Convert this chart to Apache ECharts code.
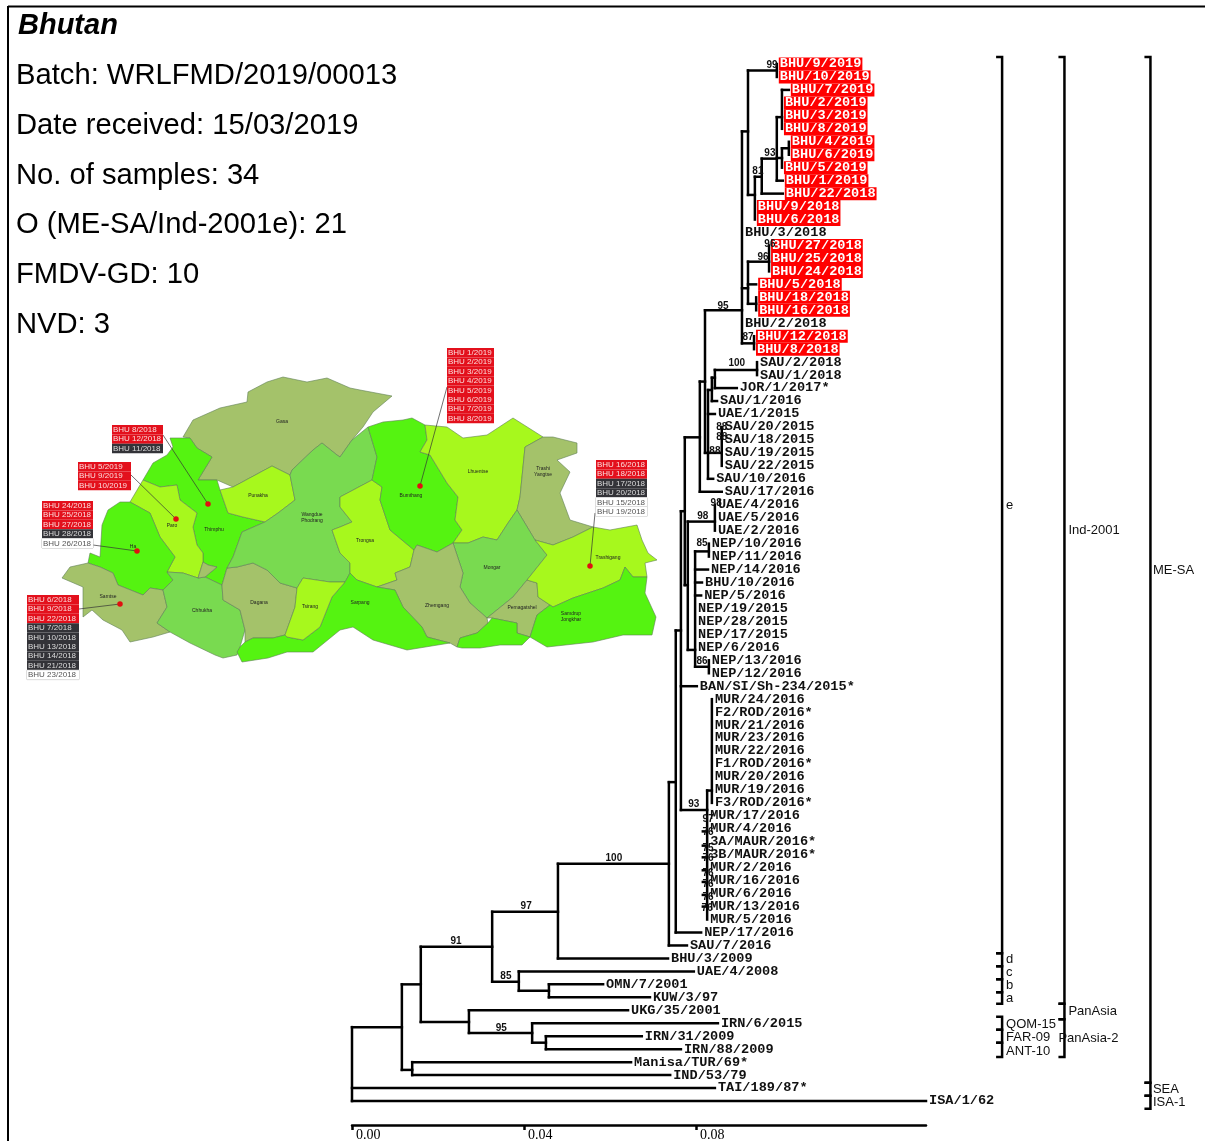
<!DOCTYPE html>
<html><head><meta charset="utf-8">
<style>html,body{margin:0;padding:0;background:#fff}#c{width:1205px;height:1141px}</style>
<script src="https://cdn.jsdelivr.net/npm/echarts@6/dist/echarts.min.js"></script>
</head><body><div id="c"></div>
<script>
const headerTitle = 'Bhutan';
const headerLines = ['Batch: WRLFMD/2019/00013','Date received: 15/03/2019','No. of samples: 34','O (ME-SA/Ind-2001e): 21','FMDV-GD: 10','NVD: 3'];

const tipNames = ['BHU/9/2019','BHU/10/2019','BHU/7/2019','BHU/2/2019','BHU/3/2019','BHU/8/2019','BHU/4/2019','BHU/6/2019','BHU/5/2019','BHU/1/2019','BHU/22/2018','BHU/9/2018','BHU/6/2018','BHU/3/2018','BHU/27/2018','BHU/25/2018','BHU/24/2018','BHU/5/2018','BHU/18/2018','BHU/16/2018','BHU/2/2018','BHU/12/2018','BHU/8/2018','SAU/2/2018','SAU/1/2018','JOR/1/2017*','SAU/1/2016','UAE/1/2015','SAU/20/2015','SAU/18/2015','SAU/19/2015','SAU/22/2015','SAU/10/2016','SAU/17/2016','UAE/4/2016','UAE/5/2016','UAE/2/2016','NEP/10/2016','NEP/11/2016','NEP/14/2016','BHU/10/2016','NEP/5/2016','NEP/19/2015','NEP/28/2015','NEP/17/2015','NEP/6/2016','NEP/13/2016','NEP/12/2016','BAN/SI/Sh-234/2015*','MUR/24/2016','F2/ROD/2016*','MUR/21/2016','MUR/23/2016','MUR/22/2016','F1/ROD/2016*','MUR/20/2016','MUR/19/2016','F3/ROD/2016*','MUR/17/2016','MUR/4/2016','3A/MAUR/2016*','3B/MAUR/2016*','MUR/2/2016','MUR/16/2016','MUR/6/2016','MUR/13/2016','MUR/5/2016','NEP/17/2016','SAU/7/2016','BHU/3/2009','UAE/4/2008','OMN/7/2001','KUW/3/97','UKG/35/2001','IRN/6/2015','IRN/31/2009','IRN/88/2009','Manisa/TUR/69*','IND/53/79','TAI/189/87*','ISA/1/62'];
const tipParents = ['n29','n29','n33','n33','n33','n33','n35','n35','n34','n32','n31','n30','n30','n22','n37','n37','n37','n36','n38','n38','n22','n39','n39','n26','n26','n25','n24','n23','n27','n27','n27','n27','n23','n15','n17','n17','n17','n19','n19','n18','n18','n18','n18','n18','n18','n18','n20','n20','n13','n41','n41','n41','n41','n41','n41','n41','n41','n41','n40','n40','n40','n40','n40','n40','n40','n40','n40','n12','n11','n6','n7','n8','n8','n5','n9','n10','n10','n2','n2','root','root'];
const tipDists = [.0988,.0988,.1016,.1000,.1000,.1000,.1016,.1016,.1000,.1002,.1002,.0937,.0937,.0907,.0970,.0970,.0970,.0940,.0940,.0940,.0907,.0935,.0935,.0942,.0942,.0895,.0849,.0844,.0860,.0860,.0860,.0860,.0840,.0860,.0844,.0844,.0844,.0830,.0830,.0828,.0814,.0812,.0798,.0798,.0798,.0798,.0830,.0830,.0802,.0837,.0837,.0837,.0837,.0837,.0837,.0837,.0837,.0837,.0826,.0826,.0826,.0826,.0826,.0826,.0826,.0826,.0826,.0812,.0779,.0735,.0795,.0584,.0693,.0642,.0851,.0674,.0765,.0649,.0740,.0844,.1335];
const outbreakTips = ['BHU/9/2019','BHU/10/2019','BHU/7/2019','BHU/2/2019','BHU/3/2019','BHU/8/2019','BHU/4/2019','BHU/6/2019','BHU/5/2019','BHU/1/2019','BHU/22/2018','BHU/9/2018','BHU/6/2018','BHU/27/2018','BHU/25/2018','BHU/24/2018','BHU/5/2018','BHU/18/2018','BHU/16/2018','BHU/12/2018','BHU/8/2018'];

const nodeNames   = ['root','n1','n2','n3','n4','n5','n6','n7','n8','n9','n10','n11','n12','n13','n14','n15','n16','n17','n18','n19','n20','n21','n22','n23','n24','n25','n26','n27','n28','n29','n30','n31','n32','n33','n34','n35','n36','n37','n38','n39','n40','n41'];
const nodeParents = [null,'root','n1','n1','n3','n3','n4','n4','n7','n5','n9','n6','n11','n12','n13','n14','n14','n16','n16','n18','n18','n15','n21','n21','n23','n24','n25','n23','n22','n28','n28','n30','n31','n32','n32','n34','n22','n36','n36','n22','n13','n40'];
const nodeDists   = [0,.0116,.0140,.0160,.0326,.0272,.0479,.0388,.0458,.0419,.0451,.0737,.0753,.0765,.0774,.0809,.0781,.0844,.0798,.0830,.0830,.0821,.0907,.0828,.0837,.0844,.0942,.0860,.0921,.0988,.0937,.0953,.0988,.1000,.1000,.1016,.0921,.0970,.0940,.0935,.0826,.0837];
const nodeRows    = [77,74.3,77.6,71.0,68.1,73.9,65.4,70.8,71.5,74.75,75.5,61.7,55.4,43.7,34.5,28.8,40.2,35.3,45.2,37.6,46.5,24.5,19.0,30.0,25.15,24.2,23.6,30.0,5.2,0.5,10.1,8.7,7.3,4.1,7.25,6.5,17.3,15.25,18.5,21.55,57.55,56.05];

const ladderRows = [59.2,60.3,61.2,62.2,63.1,64.1,65.0];
const ladderFrom = .0816;

const supportTexts = ['99','93','81','96','96','95','87','100','88','88','88','98','98','85','86','93','97','76','75','76','76','76','76','76','100','97','91','85','95'];
const supportDists = [.0977,.0972,.0944,.0972,.0956,.0863,.0921,.0895,.0860,.0860,.0844,.0847,.0816,.0814,.0814,.0795,.0828,.0828,.0828,.0828,.0828,.0828,.0828,.0826,.0609,.0405,.0242,.0358,.0347];
const supportRows  = [0.1,6.9,8.25,13.9,14.9,18.7,21.1,23.1,28.0,28.8,29.9,33.9,34.9,37.0,46.1,57.1,58.3,59.3,60.5,61.3,62.4,63.3,64.3,65.1,61.25,65.0,67.7,70.4,74.4];

const cladeNames   = ['e','d','c','b','a','QOM-15','FAR-09','ANT-10','Ind-2001','PanAsia','PanAsia-2','ME-SA','SEA','ISA-1'];
const cladeColumns = [.1512,.1512,.1512,.1512,.1512,.1512,.1512,.1512,.1657,.1657,.1657,.1857,.1857,.1857];
const cladeStarts  = [-0.54,68.6,69.6,70.6,71.6,73.5,74.5,75.5,-0.54,72.5,73.7,-0.54,78.6,79.6];
const cladeEnds    = [68.6,69.6,70.6,71.6,72.5,74.5,75.5,76.6,72.5,73.7,76.6,78.6,79.6,80.6];

const scaleTicks = [0,0.04,0.08];

// map: outlines in the map's own units (east, south)
const districtNames = ['Gasa','Thimphu','Paro','Ha','Samtse','Chhukha','Dagana','Punakha','Wangdue Phodrang','Trongsa','Bumthang','Lhuentse','Trashi Yangtse','Mongar','Zhemgang','Pemagatshel','Trashigang','Samdrup Jongkhar','Sarpang','Tsirang','Samdrup Jongkhar W','Thimphu S'];
const districtClass = ['o','b','l','b','o','m','o','l','m','l','b','l','o','m','o','o','l','b','b','l','b','o'];
const districtRings = [
[[183,437],[193,420],[220,408],[247,402],[248,392],[267,382],[283,377],[307,382],[327,378],[350,388],[360,390],[392,396],[373,412],[363,427],[352,440],[340,457],[337,455],[322,443],[313,450],[292,470],[290,475],[272,466],[233,487],[217,480],[198,480],[212,457],[197,448],[190,438]],
[[170,438],[190,438],[197,448],[212,457],[198,480],[217,480],[220,490],[228,513],[243,517],[265,522],[242,532],[233,557],[227,568],[222,585],[205,577],[217,567],[208,565],[203,562],[203,553],[197,545],[193,527],[197,513],[180,500],[177,485],[160,487],[143,480],[153,463],[167,455],[173,447]],
[[143,480],[160,487],[177,485],[180,500],[197,513],[193,527],[197,545],[203,553],[203,562],[198,578],[183,573],[167,572],[175,557],[160,537],[150,513],[130,502]],
[[130,502],[120,502],[108,510],[102,525],[100,557],[90,553],[88,563],[100,567],[113,573],[118,585],[143,595],[150,588],[163,590],[173,580],[167,572],[175,557],[160,537],[150,513]],
[[62,578],[70,567],[88,563],[100,567],[113,573],[118,585],[143,595],[150,588],[163,590],[167,607],[157,623],[170,632],[153,637],[130,642],[122,630],[103,620],[92,610],[83,617],[83,587]],
[[173,580],[167,572],[183,573],[198,578],[205,577],[222,585],[223,600],[240,610],[245,630],[240,647],[237,655],[223,658],[215,655],[190,643],[170,632],[157,623],[167,607],[163,590]],
[[222,585],[227,568],[237,567],[253,563],[267,570],[280,583],[297,588],[295,607],[285,635],[273,638],[253,638],[245,642],[245,630],[240,610],[223,600]],
[[220,490],[233,487],[272,466],[290,475],[295,500],[278,513],[265,522],[243,517],[228,513]],
[[290,475],[292,470],[313,450],[322,443],[337,455],[340,457],[352,440],[368,427],[377,457],[372,480],[340,497],[340,507],[352,522],[340,527],[332,530],[340,553],[350,563],[350,573],[345,582],[330,582],[303,578],[297,588],[280,583],[267,570],[253,563],[237,567],[227,568],[233,557],[242,532],[265,522],[278,513],[295,500]],
[[340,497],[372,480],[382,487],[380,500],[390,530],[414,550],[410,567],[395,573],[397,580],[377,587],[357,580],[350,573],[350,563],[340,553],[332,530],[340,527],[352,522],[340,507]],
[[368,427],[383,422],[403,420],[412,418],[425,425],[427,440],[420,452],[430,455],[447,483],[458,497],[455,520],[462,530],[453,543],[437,552],[417,545],[414,550],[390,530],[380,500],[382,487],[372,480],[377,457]],
[[425,425],[447,427],[463,438],[487,435],[513,418],[543,437],[525,447],[520,497],[517,510],[508,523],[497,540],[483,537],[468,543],[453,543],[462,530],[455,520],[458,497],[447,483],[430,455],[420,452],[427,440]],
[[543,437],[553,437],[577,443],[577,453],[557,460],[570,472],[560,493],[570,520],[593,527],[573,537],[553,545],[535,540],[517,510],[520,497],[525,447]],
[[453,543],[468,543],[483,537],[497,540],[508,523],[517,510],[535,540],[547,555],[527,580],[513,597],[487,618],[470,603],[460,587],[463,573]],
[[417,545],[437,552],[453,543],[463,573],[460,587],[470,603],[487,618],[488,623],[477,633],[460,638],[457,647],[450,643],[427,637],[422,627],[403,607],[395,590],[377,587],[397,580],[395,573],[410,567],[414,550]],
[[487,618],[513,597],[527,580],[537,583],[538,597],[550,605],[537,615],[530,637],[517,633],[517,623],[492,618]],
[[535,540],[553,545],[573,537],[593,527],[610,530],[637,525],[642,540],[648,553],[657,560],[645,563],[647,577],[633,577],[625,567],[620,580],[603,588],[573,598],[553,607],[550,605],[538,597],[537,583],[527,580],[547,555]],
[[550,605],[553,607],[573,598],[603,588],[620,580],[625,567],[633,577],[647,577],[645,593],[656,617],[652,635],[623,635],[593,642],[547,647],[530,637],[537,615]],
[[237,652],[240,647],[245,642],[253,638],[273,638],[285,635],[287,637],[303,640],[320,627],[332,597],[345,582],[350,573],[357,580],[377,587],[395,590],[403,607],[422,627],[427,637],[450,643],[407,650],[373,640],[353,627],[340,630],[313,652],[287,652],[268,658],[242,662]],
[[297,588],[303,578],[330,582],[345,582],[332,597],[320,627],[303,640],[287,637],[285,635],[295,607]],
[[460,638],[477,633],[488,623],[492,618],[517,623],[517,633],[530,637],[522,645],[500,645],[480,648],[462,648],[457,647]],
[[203,562],[208,565],[217,567],[205,577],[198,578]]
];
const labelNames = ['Gasa','Punakha','Wangdue\nPhodrang','Paro','Thimphu','Ha','Samtse','Chhukha','Dagana','Tsirang','Sarpang','Trongsa','Bumthang','Lhuentse','Trashi\nYangtse','Mongar','Zhemgang','Pemagatshel','Samdrup\nJongkhar','Trashigang'];
const labelPlaces = [[282,422],[258,496],[312,518],[172,526],[214,530],[133,547],[108,597],[202,611],[259,603],[310,607],[360,603],[365,541],[411,496],[478,472],[543,472],[492,568],[437,606],[522,608],[571,617],[608,558]];
const sites = [[208,504],[176,519],[137,551],[120,604],[420,486],[590,566]];
const calloutAnchors = [[163,435],[131,475],[93,545],[79,609],[447,387],[595,513]];
const calloutCorners = [[112,425],[78,462],[42,501],[27,595],[447,348],[596,460]];
const calloutWidths = [51,53,51,52,47,51];
const calloutRed = [['BHU 8/2018','BHU 12/2018'],['BHU 5/2019','BHU 9/2019','BHU 10/2019'],['BHU 24/2018','BHU 25/2018','BHU 27/2018'],['BHU 6/2018','BHU 9/2018','BHU 22/2018'],['BHU 1/2019','BHU 2/2019','BHU 3/2019','BHU 4/2019','BHU 5/2019','BHU 6/2019','BHU 7/2019','BHU 8/2019'],['BHU 16/2018','BHU 18/2018']];
const calloutDark = [['BHU 11/2018'],[],['BHU 28/2018'],['BHU 7/2018','BHU 10/2018','BHU 13/2018','BHU 14/2018','BHU 21/2018'],[],['BHU 17/2018','BHU 20/2018']];
const calloutPale = [[],[],['BHU 26/2018'],['BHU 23/2018'],[],['BHU 15/2018','BHU 19/2018']];

// label nudges in pixels (styling only)
const tipLabelBaseDy = 0.5;
const labelNudge = {'BHU/4/2019':[1,0],'BHU/27/2018':[4,-1],'BHU/3/2018':[-1,0],'BHU/2/2018':[-1,0],'SAU/2/2018':[-15,0],'SAU/1/2016':[-2,0],'SAU/20/2015':[4,0],'SAU/18/2015':[4,0],'SAU/19/2015':[0,1.5],'SAU/22/2015':[-7,1.5],'SAU/10/2016':[2,1.5],'SAU/17/2016':[0,1.5],'NEP/5/2016':[-6,0],'NEP/10/2016':[-3,0],'NEP/11/2016':[-1,0],'NEP/13/2016':[-3,0],'MUR/17/2016':[3,0],'MUR/4/2016':[4,0],'3A/MAUR/2016*':[2,1],'3B/MAUR/2016*':[2,0],'MUR/2/2016':[4,0],'MUR/16/2016':[4,0],'MUR/6/2016':[4,0],'MUR/13/2016':[2,1.5],'BHU/3/2009':[1,0],'KUW/3/97':[1,0],'IRN/6/2015':[1,0],'Manisa/TUR/69*':[3,-1],'IND/53/79':[2,1],'TAI/189/87*':[2,0],'ISA/1/62':[1,0]};
const cladeNudge = {'PanAsia-2':[-10,0],'QOM-15':[0,1],'FAR-09':[0,1],'ANT-10':[0,2],'ME-SA':[-1.5,0],'SEA':[-1.5,0],'ISA-1':[-1.5,0]};

const flip = p => [p[0], -p[1]];
const fillOf = {o:'#A4C26A', b:'#55F311', l:'#A7F81D', m:'#79DA50'};
const geoJson = {type:'FeatureCollection',features:districtNames.map((name,i)=>({
  type:'Feature',properties:{name},
  geometry:{type:'Polygon',coordinates:[districtRings[i].concat([districtRings[i][0]]).map(flip)]}
}))};
echarts.registerMap('bhutan', geoJson);

// tree -> segments
const dOf = {}, rOf = {}, spans = {};
nodeNames.forEach((n,i)=>{dOf[n]=nodeDists[i];rOf[n]=nodeRows[i];spans[n]=[];});
nodeNames.forEach((n,i)=>{if(nodeParents[i]) spans[nodeParents[i]].push(nodeRows[i]);});
tipNames.forEach((n,i)=>spans[tipParents[i]].push(i));
const segments = [];
nodeNames.forEach((n,i)=>{
  segments.push([dOf[n],Math.min(...spans[n]),dOf[n],Math.max(...spans[n])]);
  if(nodeParents[i]) segments.push([dOf[nodeParents[i]],rOf[n],dOf[n],rOf[n]]);
});
tipNames.forEach((n,i)=>{
  const p=dOf[tipParents[i]];
  if(tipDists[i]>p) segments.push([p,i,tipDists[i],i]);
});
ladderRows.forEach(r=>segments.push([ladderFrom,r,dOf['n40'],r]));

const monoFont='"Liberation Mono",monospace', sansFont='"Liberation Sans",Arial,sans-serif';
const tipData = tipNames.map((n,i)=>{
  const red = outbreakTips.includes(n);
  const nudge = labelNudge[n]||[0,0];
  return {value:[tipDists[i],i],name:n,label:{
    offset:[nudge[0],nudge[1]+tipLabelBaseDy],
    ...(red?{color:'#fff',backgroundColor:'#f00'}:{})
  }};
});

const calloutData = calloutCorners.map((c,i)=>{
  const lines=[...calloutRed[i].map(t=>`{r${i}|${t}}`),...calloutDark[i].map(t=>`{k${i}|${t}}`),...calloutPale[i].map(t=>`{w${i}|${t}}`)];
  return {value:flip(c),text:lines.join('\n')};
});
const rich={};
calloutWidths.forEach((w,i)=>{
  const base={width:w-2,height:9.4,lineHeight:9.4,fontSize:8,fontFamily:sansFont,padding:[0,1,0,1]};
  rich['r'+i]={...base,color:'#fbdcdc',backgroundColor:'#e3101c'};
  rich['k'+i]={...base,color:'#dcdcdc',backgroundColor:'#333338'};
  rich['w'+i]={...base,color:'#555',backgroundColor:'#fff',borderColor:'#bbb',borderWidth:0.5};
});

const graphicTexts=[{type:'text',x:18,y:26,style:{text:headerTitle,font:'italic bold 29px '+sansFont,fill:'#000',textVerticalAlign:'middle'}}];
headerLines.forEach((t,i)=>graphicTexts.push({type:'text',x:16,y:76+i*49.8,style:{text:t,font:'29.2px '+sansFont,fill:'#000',textVerticalAlign:'middle'}}));
graphicTexts.push({type:'line',shape:{x1:8,y1:6.5,x2:1205,y2:6.5},style:{stroke:'#000',lineWidth:2}});
graphicTexts.push({type:'line',shape:{x1:8,y1:6,x2:8,y2:1141},style:{stroke:'#000',lineWidth:2}});

const solid={opacity:1};
const chart = echarts.init(document.getElementById('c'),null,{renderer:'canvas'});
chart.setOption({
  animation:false,
  backgroundColor:'#fff',
  graphic:graphicTexts,
  grid:{left:352,right:279,top:64,bottom:16,containLabel:false,outerBoundsMode:'none'},
  xAxis:{type:'value',min:0,max:0.1335,position:'bottom',
    axisLine:{onZero:false,lineStyle:{color:'#000',width:2.5}},
    axisTick:{show:true,length:5,inside:false,customValues:scaleTicks,lineStyle:{color:'#000',width:2.5}},
    axisLabel:{customValues:scaleTicks,formatter:v=>v.toFixed(2),align:'left',margin:3,padding:[0,0,0,4],color:'#000',fontFamily:'"Liberation Serif",serif',fontSize:14,hideOverlap:false},
    splitLine:{show:false}},
  yAxis:{type:'value',inverse:true,min:0,max:81.85,show:false,splitLine:{show:false}},
  geo:{map:'bhutan',aspectScale:1,roam:false,silent:true,
    boundingCoords:[[60,-370],[660,-665]],left:60,top:370,width:600,height:295,
    label:{show:false},
    itemStyle:{areaColor:'#A4C26A',borderColor:'#5f7f55',borderWidth:0.6},
    regions:districtNames.map((n,i)=>({name:n,itemStyle:{areaColor:fillOf[districtClass[i]]}}))},
  series:[
    {type:'custom',name:'tree',coordinateSystem:'cartesian2d',clip:false,silent:true,z:3,
      encode:{x:[0,2],y:[1,3]},data:segments,
      renderItem:(p,api)=>{
        const a=api.coord([api.value(0),api.value(1)]),b=api.coord([api.value(2),api.value(3)]);
        return {type:'line',shape:{x1:a[0],y1:a[1],x2:b[0],y2:b[1]},style:{stroke:'#000',lineWidth:2.5,lineCap:'square'}};
      }},
    {type:'scatter',name:'tips',coordinateSystem:'cartesian2d',clip:false,silent:true,z:4,symbolSize:0,itemStyle:solid,
      data:tipData,
      label:{show:true,position:'right',distance:2,formatter:'{b}',color:'#111',fontFamily:monoFont,fontWeight:'bold',fontSize:13.6,lineHeight:13,padding:[0,1,0,1]},
      labelLayout:{hideOverlap:false}},
    {type:'scatter',name:'support',coordinateSystem:'cartesian2d',clip:false,silent:true,z:5,symbolSize:0,itemStyle:solid,
      data:supportTexts.map((t,i)=>({value:[supportDists[i],supportRows[i]],name:t})),
      label:{show:true,position:'inside',formatter:'{b}',color:'#111',fontFamily:sansFont,fontSize:10,fontWeight:'bold'}},
    {type:'custom',name:'clades',coordinateSystem:'cartesian2d',clip:false,silent:true,z:3,
      encode:{x:0,y:[1,2]},
      data:cladeNames.map((n,i)=>[cladeColumns[i],cladeStarts[i],cladeEnds[i],n]),
      renderItem:(p,api)=>{
        const a=api.coord([api.value(0),api.value(1)]),b=api.coord([api.value(0),api.value(2)]);
        const name=cladeNames[p.dataIndex], nudge=cladeNudge[name]||[0,0];
        return {type:'group',children:[
          {type:'polyline',shape:{points:[[a[0]-6,a[1]],[a[0],a[1]],[b[0],b[1]],[b[0]-6,b[1]]]},style:{stroke:'#000',fill:'none',lineWidth:2.5}},
          {type:'text',x:a[0]+4+nudge[0],y:(a[1]+b[1])/2+nudge[1],style:{text:name,font:'13px '+sansFont,fill:'#111',textVerticalAlign:'middle'}}
        ]};
      }},
    {type:'lines',name:'leaders',coordinateSystem:'geo',silent:true,z:6,polyline:false,
      data:calloutAnchors.map((a,i)=>({coords:[flip(a),flip(sites[i])]})),
      lineStyle:{color:'#333',width:0.7,opacity:1}},
    {type:'scatter',name:'sites',coordinateSystem:'geo',silent:true,z:7,symbolSize:5.5,
      itemStyle:{color:'#e01010',opacity:1},data:sites.map(flip)},
    {type:'scatter',name:'districts',coordinateSystem:'geo',silent:true,z:6,symbolSize:0,itemStyle:solid,
      data:labelNames.map((n,i)=>({name:n,value:flip(labelPlaces[i])})),
      label:{show:true,position:'inside',formatter:'{b}',color:'#222',fontFamily:sansFont,fontSize:5,lineHeight:6},
      labelLayout:{hideOverlap:false}},
    {type:'scatter',name:'callouts',coordinateSystem:'geo',silent:true,z:8,symbolSize:0,itemStyle:solid,
      data:calloutData,
      label:{show:true,position:[0,0],align:'left',verticalAlign:'top',formatter:p=>p.data.text,rich},
      labelLayout:{hideOverlap:false}}
  ]
});
</script></body></html>
